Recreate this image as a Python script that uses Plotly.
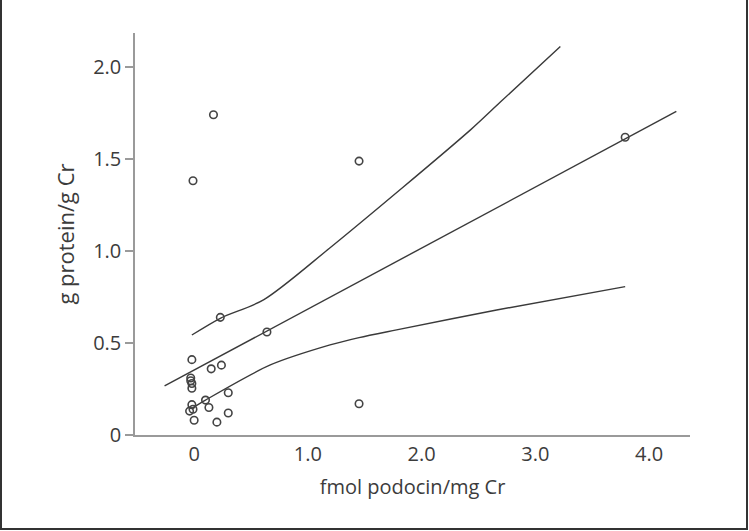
import plotly.graph_objects as go

# patient values
podocin = [0.17, -0.01, 1.45, 3.79, 1.45, 0.23, 0.64,
           -0.02, 0.15, 0.24, -0.03, -0.03, -0.02, -0.02,
           0.30, 0.10, -0.02, 0.13, -0.04, -0.01, 0.30, 0.00, 0.20]
protein = [1.742, 1.383, 1.49, 1.62, 0.17, 0.64, 0.56,
           0.41, 0.36, 0.38, 0.31, 0.295, 0.28, 0.254,
           0.23, 0.19, 0.165, 0.15, 0.13, 0.14, 0.12, 0.08, 0.07]

# regression line and confidence limits
fit_x = [-0.26, 4.24]
fit_y = [0.267, 1.76]
upper_x = [-0.02, 0.23, 0.61, 1.19, 2.43, 2.69, 3.22]
upper_y = [0.544, 0.635, 0.735, 1.016, 1.66, 1.81, 2.114]
lower_x = [-0.02, 0.10, 0.67, 1.195, 1.45, 1.78, 2.66, 3.79]
lower_y = [0.145, 0.19, 0.381, 0.49, 0.53, 0.572, 0.68, 0.807]

x_ticks = [0, 1, 2, 3, 4]
x_labels = ['0', '1.0', '2.0', '3.0', '4.0']
y_ticks = [0, 0.5, 1.0, 1.5, 2.0]
y_labels = ['0', '0.5', '1.0', '1.5', '2.0']

line_col = '#3a3a3a'
axis_col = '#9a9a9a'
text_col = '#3c3c3c'
font_fam = 'Open Sans, Noto Sans, sans-serif'

fig = go.Figure()
for xs, ys in [(fit_x, fit_y), (upper_x, upper_y), (lower_x, lower_y)]:
    fig.add_trace(go.Scatter(x=xs, y=ys, mode='lines', line_shape='spline',
                             line=dict(color=line_col, width=1.4, smoothing=0.8),
                             showlegend=False, hoverinfo='skip'))

fig.add_trace(go.Scatter(x=podocin, y=protein, mode='markers',
                         marker=dict(symbol='circle-open', size=7.5, color='#444444',
                                     line=dict(width=1.6)),
                         showlegend=False))

# plot area: x 135..690 px, y 33..435 px
L, R, T, B = 135, 59, 33, 96
W, H = 749, 531
pw, ph = W - L - R, H - T - B

# outer frame of the figure
fig.add_shape(type='rect', xref='paper', yref='paper',
              x0=(1 - L) / pw, x1=(W - 2 - L) / pw,
              y0=-(B - 2) / ph, y1=(H - T - 1) / ph,
              line=dict(color='#333333', width=2), fillcolor='rgba(0,0,0,0)')

fig.update_layout(
    width=W, height=H,
    margin=dict(l=L, r=R, t=T, b=B),
    paper_bgcolor='white', plot_bgcolor='white',
    font=dict(family=font_fam, size=19, color=text_col),
    xaxis=dict(range=[-0.52, 4.36], tickvals=x_ticks, ticktext=x_labels,
               showgrid=False, zeroline=False, showline=True,
               linecolor=axis_col, linewidth=1.5, ticks='',
               tickfont=dict(size=20),
               title=dict(text='fmol podocin/mg Cr', standoff=14,
                          font=dict(family=font_fam, size=20, color=text_col))),
    yaxis=dict(range=[0, 2.187], tickvals=y_ticks, ticktext=y_labels,
               showgrid=False, zeroline=False, showline=True,
               linecolor=axis_col, linewidth=1.5,
               ticks='outside', ticklen=8, tickcolor=axis_col, tickwidth=1.5,
               tickfont=dict(size=20),
               title=dict(text='g protein/g Cr', standoff=12,
                          font=dict(family=font_fam, size=22, color=text_col))),
)

fig.write_html("out.html", config={'displayModeBar': False},
               post_script="document.body.style.margin='0';document.body.style.overflow='hidden';")
